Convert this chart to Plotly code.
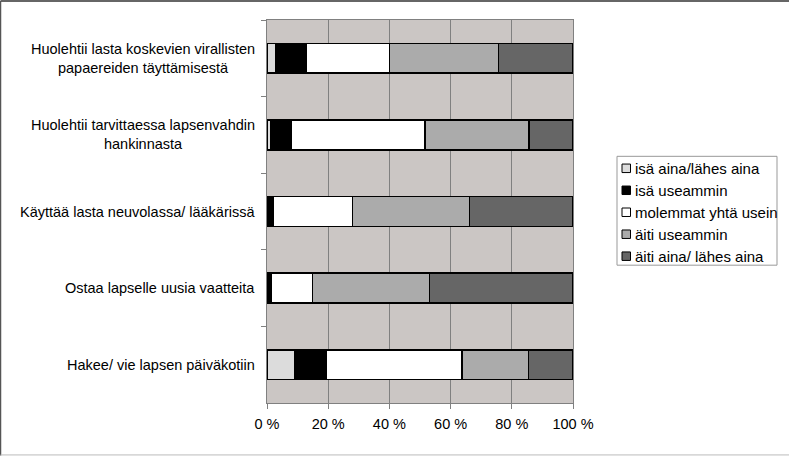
import plotly.graph_objects as go

categories = [
    "Huolehtii lasta koskevien virallisten<br>papaereiden täyttämisestä",
    "Huolehtii tarvittaessa lapsenvahdin<br>hankinnasta",
    "Käyttää lasta neuvolassa/ lääkärissä",
    "Ostaa lapselle uusia vaatteita",
    "Hakee/ vie lapsen päiväkotiin",
]
series_names = [
    "isä aina/lähes aina",
    "isä useammin",
    "molemmat yhtä usein",
    "äiti useammin",
    "äiti aina/ lähes aina",
]
isa_aina = [3.0, 1.3, 0.0, 0.0, 9.2]
isa_useammin = [9.8, 6.5, 2.2, 1.3, 10.0]
molemmat = [27.3, 43.8, 25.7, 13.5, 44.6]
aiti_useammin = [35.6, 34.0, 38.3, 38.3, 21.6]
aiti_aina = [24.3, 14.4, 33.8, 46.9, 14.6]
x_ticks = [0, 20, 40, 60, 80, 100]
x_tick_labels = ["0 %", "20 %", "40 %", "60 %", "80 %", "100 %"]

colors = ["#DCDCDC", "#000000", "#FFFFFF", "#ABABAB", "#666666"]
values = [isa_aina, isa_useammin, molemmat, aiti_useammin, aiti_aina]

FONT = "Liberation Sans, Arial, sans-serif"

fig = go.Figure()
for i, (name, vals) in enumerate(zip(series_names, values)):
    fig.add_trace(go.Bar(
        y=categories, x=vals, name=name, orientation="h",
        marker=dict(color=colors[i], line=dict(color="#000000", width=1.5)),
        showlegend=False,
    ))

W, H = 789, 456
L, R, T, B = 267, 216, 19.5, 53
pw, ph = W - L - R, H - T - B


def px(xp):
    return (xp - L) / pw


def py(yp):
    return (H - B - yp) / ph


fig.update_layout(
    width=W, height=H,
    margin=dict(l=L, r=R, t=T, b=B, pad=0),
    barmode="stack",
    bargap=0.61,
    paper_bgcolor="white",
    plot_bgcolor="#CBC6C4",
    font=dict(family=FONT, size=14.5, color="black"),
    showlegend=False,
    xaxis=dict(
        range=[0, 100], tickvals=x_ticks, ticktext=x_tick_labels,
        showgrid=True, gridcolor="#808080", gridwidth=1,
        showline=True, linecolor="#808080", linewidth=1, mirror=True,
        ticks="outside", ticklen=5, tickcolor="#808080",
        ticklabelstandoff=3,
        zeroline=False, fixedrange=True,
        tickfont=dict(family=FONT, size=14.5, color="black"),
    ),
    yaxis=dict(
        categoryorder="array", categoryarray=categories, autorange="reversed",
        showticklabels=False, tickson="boundaries",
        ticks="outside", ticklen=5, tickcolor="#808080",
        showline=True, linecolor="#808080", linewidth=1, mirror=True,
        showgrid=False, fixedrange=True,
    ),
)

for c in categories:
    fig.add_annotation(
        x=0, xref="paper", xshift=-10, xanchor="right",
        y=c, yref="y", yanchor="middle",
        text=c, showarrow=False, align="center",
        font=dict(family=FONT, size=14.5, color="black"),
    )

# legend (drawn manually to match the compact original)
leg_x0, leg_x1, leg_y0, leg_y1 = 617, 777, 156, 265
fig.add_shape(type="rect", xref="paper", yref="paper",
              x0=px(leg_x0), x1=px(leg_x1), y0=py(leg_y0), y1=py(leg_y1),
              line=dict(color="#999999", width=1), fillcolor="white")
row0, row_step = 168, 22
for i, (name, col) in enumerate(zip(series_names, colors)):
    cy = row0 + i * row_step
    fig.add_shape(type="rect", xref="paper", yref="paper",
                  x0=px(622), x1=px(630.5), y0=py(cy - 4.25), y1=py(cy + 4.25),
                  line=dict(color="#000000", width=1), fillcolor=col)
    fig.add_annotation(x=px(633), y=py(cy), xref="paper", yref="paper",
                       xanchor="left", yanchor="middle", text=name,
                       showarrow=False,
                       font=dict(family=FONT, size=15, color="black"))

# outer chart frame
fig.add_shape(type="line", xref="paper", yref="paper",
              x0=px(0.5), x1=px(W), y0=py(0.5), y1=py(0.5),
              line=dict(color="#333333", width=1.5))
fig.add_shape(type="line", xref="paper", yref="paper",
              x0=px(0.5), x1=px(0.5), y0=py(0.5), y1=py(H - 0.5),
              line=dict(color="#555555", width=1.5))
fig.add_shape(type="line", xref="paper", yref="paper",
              x0=px(0.5), x1=px(W), y0=py(H - 1), y1=py(H - 1),
              line=dict(color="#BBBBBB", width=1))

fig.write_html("out.html")
